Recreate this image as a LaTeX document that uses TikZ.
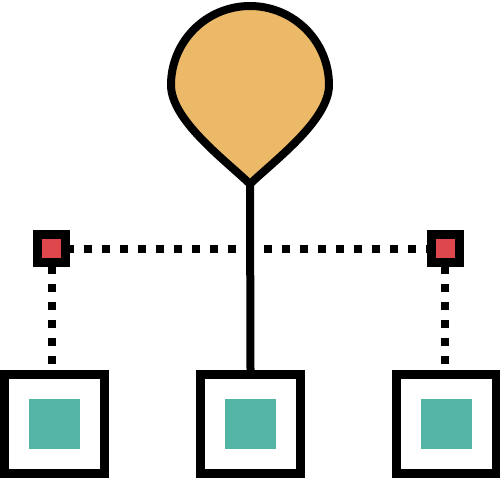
\documentclass[tikz,border=0pt]{standalone}
\definecolor{pinfill}{RGB}{235,185,104}
\definecolor{redsq}{RGB}{222,71,76}
\definecolor{tealsq}{RGB}{82,181,165}
\begin{document}
\begin{tikzpicture}[x=1pt,y=-1pt,
  bigbox/.style={draw=black,line width=9pt,fill=white,minimum width=100pt,minimum height=99pt,inner sep=0pt},
  tealbox/.style={fill=tealsq,minimum width=51pt,minimum height=50pt,inner sep=0pt},
  smallbox/.style={draw=black,line width=9pt,fill=redsq,minimum width=28pt,minimum height=28pt,inner sep=0pt},
  dotline/.style={line width=8pt,dash pattern=on 8pt off 10pt},
  stem/.style={line width=8pt}]
\useasboundingbox (0,0) rectangle (500,480);
% anchor points
\coordinate (c1) at (51.5,248.5);
\coordinate (c2) at (445,248.5);
\coordinate (tip) at (250,184);
% dotted connectors (drawn first, squares and boxes cover their ends)
\draw[dotline,dash phase=3.5pt] (c1) -- (c2);
\draw[dotline,dash phase=0.5pt] (c1) -- (51.5,424);
\draw[dotline,dash phase=0.5pt] (c2) -- (445,424);
% boxes
\node[bigbox] (b1) at (54.5,424) {};
\node[bigbox] (b2) at (250.5,424) {};
\node[bigbox] (b3) at (446,424) {};
\node[tealbox] (t1) at (b1.center) {};
\node[tealbox] (t2) at (b2.center) {};
\node[tealbox] (t3) at (b3.center) {};
% small squares
\node[smallbox] (s1) at (c1) {};
\node[smallbox] (s2) at (c2) {};
% stem
\draw[stem] (tip) -- (b2.north);
% pin
\draw[line width=8pt,fill=pinfill,line join=round]
  (tip) .. controls (225,160) and (171,120) .. (171,85)
  arc[start angle=180,end angle=360,radius=79]
  .. controls (329,120) and (275,160) .. (tip) -- cycle;
\end{tikzpicture}
\end{document}
